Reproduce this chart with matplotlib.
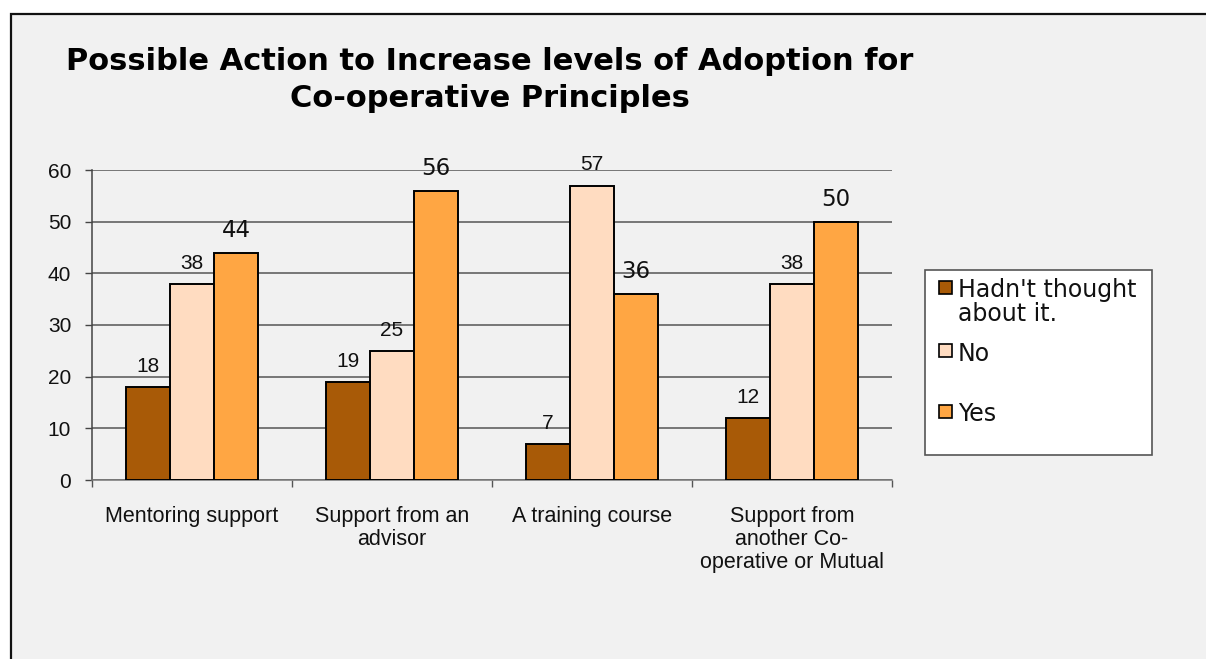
import matplotlib
matplotlib.use("Agg")

import matplotlib.pyplot as plt
from matplotlib.patches import Rectangle
import numpy as np

categories = ["Mentoring support", "Support from an\nadvisor", "A training course",
              "Support from\nanother Co-\noperative or Mutual"]
series_names = ["Hadn't thought\nabout it.", "No", "Yes"]
hadnt_thought = [18, 19, 7, 12]
no_values = [38, 25, 57, 38]
yes_values = [44, 56, 36, 50]

colors = ["#a85a07", "#ffdcc1", "#ffa643"]
# value labels: first two series in Arial-like type, "Yes" in a wider face
label_fonts = [("Liberation Sans", 15), ("Liberation Sans", 15), ("DejaVu Sans", 16.5)]

W, H = 1206, 659
fig = plt.figure(figsize=(W / 100, H / 100), dpi=100, facecolor="white")

# grey panel with a dark frame along the top and left edges
fig.patches.append(Rectangle((11 / W, -0.1), 1.2, 1 - 14 / H + 0.1, transform=fig.transFigure,
                             facecolor="#f1f1f1", edgecolor="#111111", linewidth=1.6, zorder=-5))

ax = fig.add_axes([92 / W, 1 - 480 / H, 800 / W, 310 / H])
ax.set_facecolor("none")
ax.set_zorder(2)

x = np.arange(len(categories))
width = 0.22
all_series = [hadnt_thought, no_values, yes_values]
for i, vals in enumerate(all_series):
    bars = ax.bar(x + (i - 1) * width, vals, width, color=colors[i], edgecolor="black",
                  linewidth=1.4, zorder=3)
    fam, size = label_fonts[i]
    for b, v in zip(bars, vals):
        ax.annotate(str(v), (b.get_x() + b.get_width() / 2, v), xytext=(0, 8),
                    textcoords="offset points", ha="center", va="bottom",
                    fontsize=size, family=fam, color="#111111")

ax.set_xlim(-0.5, len(categories) - 0.5)
ax.set_ylim(0, 60)
ax.set_yticks(range(0, 61, 10))
ax.yaxis.grid(True, color="#555555", linewidth=1.1, zorder=0)
ax.tick_params(axis="y", length=5, width=1, color="#444444", pad=10, labelsize=15,
               labelcolor="#111111")
for lab in ax.get_yticklabels():
    lab.set_family("Liberation Sans")

ax.set_xticks(x)
ax.set_xticklabels(categories, family="Liberation Sans", fontsize=15.5, color="#111111",
                   linespacing=1.1)
ax.tick_params(axis="x", length=0, pad=19)
ax.set_xticks(np.arange(-0.5, len(categories)), minor=True)
ax.tick_params(axis="x", which="minor", length=5, width=1, color="#555555")

for side in ["top", "right"]:
    ax.spines[side].set_visible(False)
ax.spines["left"].set_color("#444444")
ax.spines["bottom"].set_color("#777777")
ax.spines["left"].set_linewidth(1.1)
ax.spines["bottom"].set_linewidth(1.1)

fig.text(490 / W, 1 - 70 / H, "Possible Action to Increase levels of Adoption for",
         ha="center", va="baseline", fontsize=22, fontweight="bold", family="DejaVu Sans",
         color="black")
fig.text(490 / W, 1 - 107 / H, "Co-operative Principles",
         ha="center", va="baseline", fontsize=22, fontweight="bold", family="DejaVu Sans",
         color="black")

# legend box drawn by hand to get the uneven entry spacing
fig.patches.append(Rectangle((925 / W, 1 - 455 / H), 227 / W, 185 / H, transform=fig.transFigure,
                             facecolor="white", edgecolor="#555555", linewidth=1.2, zorder=2))
swatch_y = [287, 351, 411]
for name, c, yy in zip(series_names, colors, swatch_y):
    fig.patches.append(Rectangle((939 / W, 1 - (yy + 6.5) / H), 13 / W, 13 / H,
                                 transform=fig.transFigure, facecolor=c, edgecolor="black",
                                 linewidth=1.2, zorder=3))
    for k, line in enumerate(name.split("\n")):
        fig.text(958 / W, 1 - (yy + 10 + 24 * k) / H, line, ha="left", va="baseline",
                 fontsize=17, family="DejaVu Sans", color="#111111", zorder=4)

fig.savefig("out.png", dpi=100, facecolor=fig.get_facecolor())
